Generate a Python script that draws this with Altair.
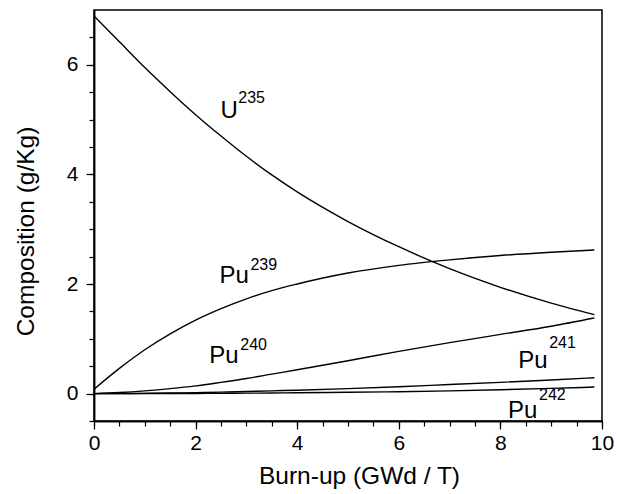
import altair as alt
import pandas as pd

burnup = [0, 0.5, 1, 1.5, 2, 2.5, 3, 3.5, 4, 5, 6, 7, 8, 9, 9.85]
u235 = [6.89, 6.42, 5.95, 5.51, 5.09, 4.70, 4.33, 3.99, 3.68, 3.14, 2.68, 2.28, 1.94, 1.65, 1.44]
pu239 = [0.08, 0.46, 0.80, 1.09, 1.34, 1.55, 1.73, 1.88, 2.00, 2.20, 2.34, 2.44, 2.52, 2.58, 2.62]
pu240 = [0.0, 0.02, 0.05, 0.09, 0.14, 0.205, 0.275, 0.355, 0.435, 0.60, 0.77, 0.93, 1.08, 1.23, 1.38]
pu241 = [0.0, 0.002, 0.005, 0.011, 0.018, 0.027, 0.038, 0.05, 0.062, 0.09, 0.125, 0.165, 0.205, 0.248, 0.29]
pu242 = [0.0, 0.0, 0.001, 0.002, 0.003, 0.005, 0.008, 0.011, 0.015, 0.024, 0.035, 0.05, 0.07, 0.095, 0.12]

series_names = ["U235", "Pu239", "Pu240", "Pu241", "Pu242"]
series_values = [u235, pu239, pu240, pu241, pu242]

# annotation labels (data coordinates)
label_main = ["U", "Pu", "Pu", "Pu", "Pu"]
label_sup = ["235", "239", "240", "241", "242"]
label_x = [2.49, 2.47, 2.27, 8.35, 8.15]
label_y = [5.03, 2.01, 0.55, 0.47, -0.44]
sup_x = [2.84, 3.08, 2.88, 8.96, 8.76]
sup_y = [5.31, 2.26, 0.80, 0.84, -0.11]

major_x = [0, 2, 4, 6, 8, 10]
major_y = [0, 2, 4, 6]
minor_x = [i * 0.5 for i in range(0, 21)]
minor_y = [-0.5 + i * 0.5 for i in range(0, 15)]

rows = []
for name, vals in zip(series_names, series_values):
    for xv, yv in zip(burnup, vals):
        rows.append({"series": name, "x": xv, "y": yv})
df = pd.DataFrame(rows)

ann = pd.DataFrame({"main": label_main, "sup": label_sup, "lx": label_x,
                    "ly": label_y, "sx": sup_x, "sy": sup_y})

FONT = "Liberation Sans"
W, H = 508, 411

xscale = alt.Scale(domain=[0, 10], nice=False, zero=False)
yscale = alt.Scale(domain=[-0.5, 7], nice=False, zero=False)

xaxis_major = alt.Axis(
    values=major_x, grid=False, title="Burn-up (GWd / T)", orient="bottom",
    tickSize=8, labelPadding=3, labelFlush=False, labelOverlap=False,
    titleX=265, titleY=62, titleBaseline="alphabetic", titleAlign="center", titleAnchor="start",
)
yaxis_major = alt.Axis(
    values=major_y, grid=False, title="Composition (g/Kg)", orient="left",
    tickSize=8, labelPadding=8, labelFlush=False, labelOverlap=False,
    titleX=-61, titleY=221, titleAngle=270,
    titleBaseline="alphabetic", titleAlign="center", titleAnchor="start",
)
xaxis_minor = alt.Axis(values=minor_x, grid=False, title=None, labels=False,
                       tickSize=5, orient="bottom", domain=True)
yaxis_minor = alt.Axis(values=minor_y, grid=False, title=None, labels=False,
                       tickSize=5, orient="left", domain=True)

lines = alt.Chart(df).mark_line(color="black", strokeWidth=1.4, interpolate="monotone").encode(
    x=alt.X("x:Q", scale=xscale, axis=xaxis_major),
    y=alt.Y("y:Q", scale=yscale, axis=yaxis_major),
    detail="series:N",
)

main_txt = alt.Chart(ann).mark_text(
    font=FONT, fontSize=24, align="left", baseline="alphabetic", color="black"
).encode(x=alt.X("lx:Q", scale=xscale, axis=None),
         y=alt.Y("ly:Q", scale=yscale, axis=None), text="main:N")

sup_txt = alt.Chart(ann).mark_text(
    font=FONT, fontSize=16, align="left", baseline="alphabetic", color="black"
).encode(x=alt.X("sx:Q", scale=xscale, axis=xaxis_minor),
         y=alt.Y("sy:Q", scale=yscale, axis=yaxis_minor), text="sup:N")

chart = alt.layer(lines, main_txt, sup_txt).resolve_axis(
    x="independent", y="independent"
).properties(
    width=W, height=H,
    autosize=alt.AutoSizeParams(type="none"),
    padding={"left": 94, "top": 10, "right": 15, "bottom": 73},
    background="white",
).configure_view(
    stroke="black", strokeWidth=1.5
).configure_axis(
    domainColor="black", domainWidth=1.5, tickColor="black", tickWidth=1.2,
    labelFont=FONT, labelFontSize=21, labelColor="black",
    titleFont=FONT, titleFontSize=24.5, titleColor="black", titleFontWeight="normal",
)

chart.save("out.html", embed_options={"renderer": "svg", "actions": False})
